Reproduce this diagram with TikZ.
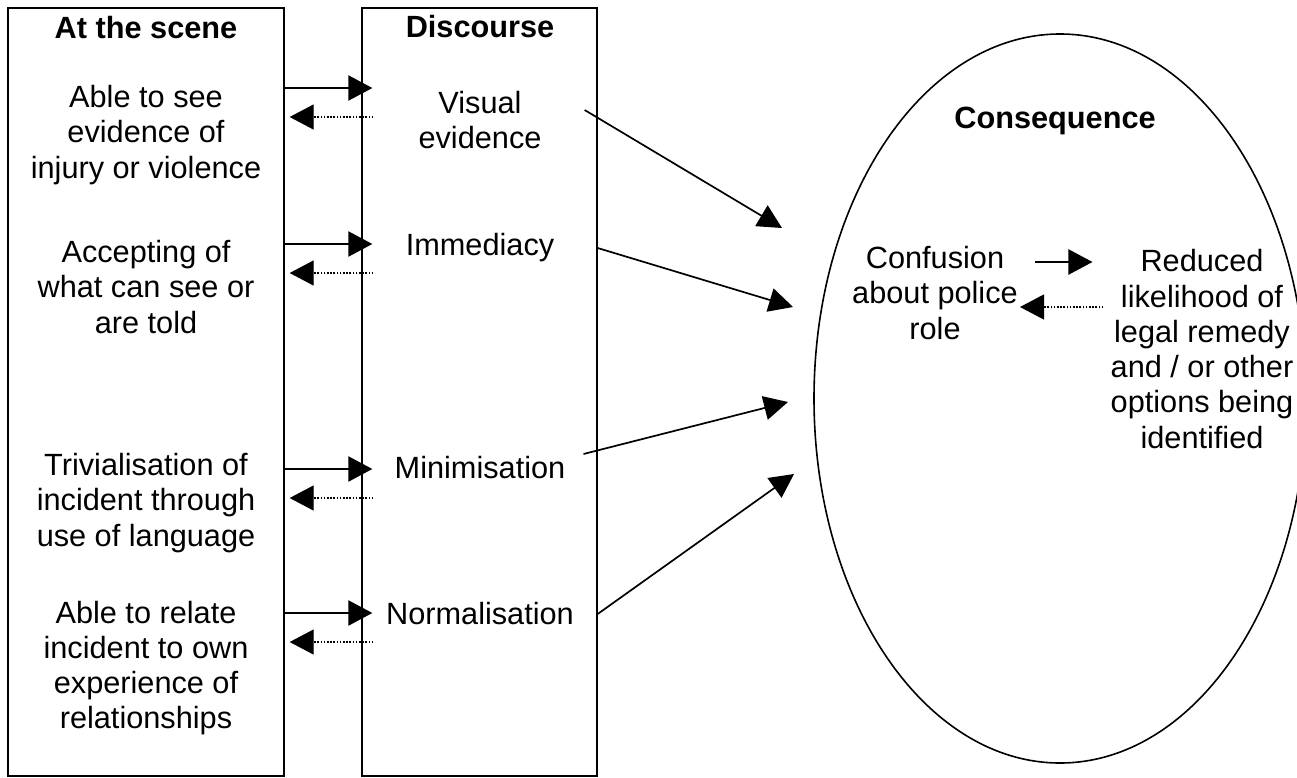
\documentclass[tikz,border=0pt]{standalone}
\usepackage{fontspec}
\setmainfont{Liberation Sans}
\usepackage{tikz}
\usetikzlibrary{arrows.meta,positioning,shapes.geometric,calc}
\newcommand\diagfont{\fontsize{30.7}{35.3}\selectfont}
\tikzset{
  panel/.style={draw, line width=1.3pt, inner sep=0pt},
  oval/.style ={draw, ellipse, line width=1.6pt, inner sep=0pt},
  head/.style ={font=\diagfont\bfseries, inner sep=0pt},
  txt/.style  ={align=center, font=\diagfont, inner sep=0pt},
  fwd/.style  ={-{Triangle[length=24pt,width=25pt]}, line width=2.2pt},
  bwd/.style  ={-{Triangle[length=24pt,width=25pt]}, line width=1.2pt, dash pattern=on 1.6pt off 1.6pt},
  feed/.style ={-{Triangle[length=24pt,width=24pt]}, line width=1.7pt},
}
\begin{document}
\begin{tikzpicture}[x=1pt, y=-1pt]
  \useasboundingbox (0,0) rectangle (1297,777);
  % the three columns
  \node[panel, minimum width=276pt, minimum height=768pt] (scene) at (146,392) {};
  \node[panel, minimum width=235pt, minimum height=768pt] (disc) at (479.5,392) {};
  \node[oval, minimum width=492pt, minimum height=729pt] (cons) at (1060,398.5) {};
  % headings
  \node[head] (scenehd) at (146,28) {At the scene};
  \node[head] (dischd) at (480,27) {Discourse};
  \node[head] (conshd) at (1055,121) {Consequence};
  % at the scene
  \node[txt] (see) at (146,135) {Able to see\\evidence of\\injury or violence};
  \node[txt] (acc) at (146,287) {Accepting of\\what can see or\\are told};
  \node[txt] (triv) at (146,503) {Trivialisation of\\incident through\\use of language};
  \node[txt] (rel) at (146,668) {Able to relate\\incident to own\\experience of\\relationships};
  % discourse
  \node[txt] (vis) at (480,120) {Visual\\evidence};
  \node[txt] (imm) at (480,248) {Immediacy};
  \node[txt] (mini) at (480,468) {Minimisation};
  \node[txt] (norm) at (480,614) {Normalisation};
  % consequence
  \node[txt] (conf) at (935,293) {Confusion\\about police\\role};
  \node[txt] (red) at (1202,349) {Reduced\\likelihood of\\legal remedy\\and / or other\\options being\\identified};
  % scene <-> discourse
  \foreach \y in {88,244,469,613} {
    \draw[fwd] (scene.east |- 0,\y) -- ($(disc.west |- 0,\y)+(11,0)$);
    \draw[bwd] ($(disc.west |- 0,\y+29)+(12,0)$) -- ($(scene.east |- 0,\y+29)+(5,0)$);
  }
  % discourse -> consequence
  \coordinate (t1) at (782,228);
  \coordinate (t2) at (793,307);
  \coordinate (t3) at (788,402);
  \coordinate (t4) at (794,474);
  \draw[feed] ($(vis.east)+(43,-10)$) -- (t1);
  \draw[feed] (disc.east |- imm) -- (t2);
  \draw[feed] ($(mini.east)+(18,-14)$) -- (t3);
  \draw[feed] (disc.east |- norm) -- (t4);
  % inside the consequence
  \draw[fwd] ($(conf.east |- 0,262)+(17,0)$) -- ($(red.west |- 0,262)-(18,0)$);
  \draw[bwd] ($(red.west |- 0,307)-(7,0)$) -- ($(conf.east |- 0,307)+(2,0)$);
\end{tikzpicture}
\end{document}
